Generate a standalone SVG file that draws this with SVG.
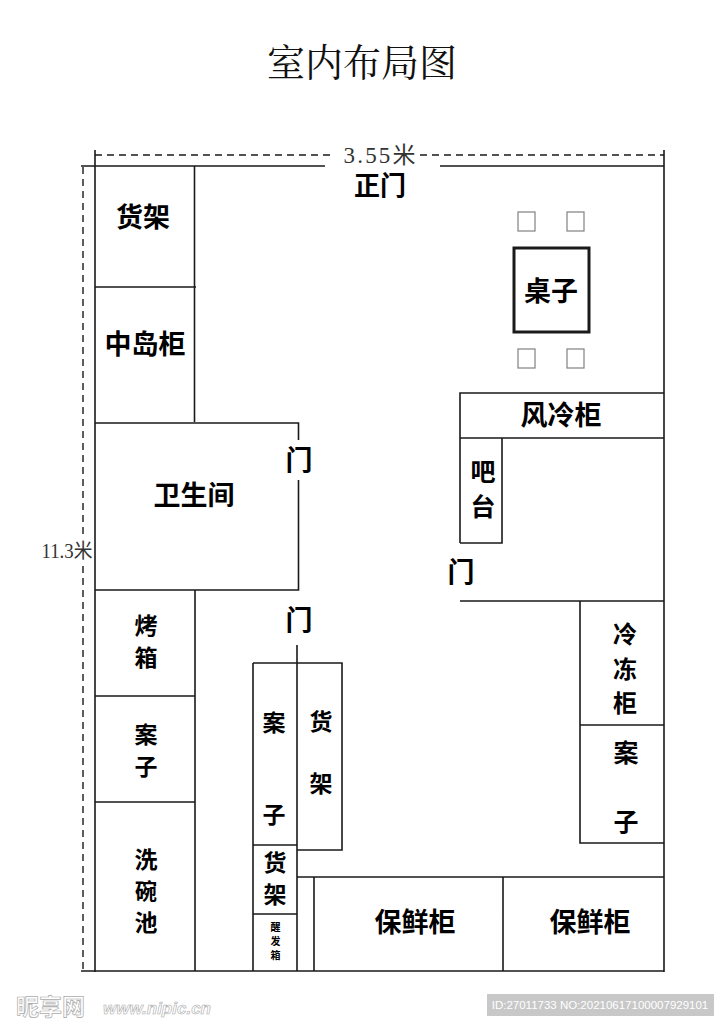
<svg xmlns="http://www.w3.org/2000/svg" width="724" height="1024" viewBox="0 0 724 1024">
<style>
.w{stroke:#1a1a1a;stroke-width:1.6;fill:none}
.d{stroke:#1a1a1a;stroke-width:1.4;fill:none;stroke-dasharray:7 5}
.c{stroke:#808080;stroke-width:1.2;fill:#fff}
.t{font-family:"Noto Sans CJK SC","Noto Sans",sans-serif;font-weight:700;fill:#000;text-anchor:middle}
.s{font-family:"Liberation Serif","Noto Sans CJK SC",serif;fill:#333;text-anchor:middle}
</style>
<rect width="724" height="1024" fill="#fff"/>
<text x="362" y="76" font-size="38" text-anchor="middle" fill="#111" font-family="'Noto Serif CJK SC','Noto Sans CJK SC',sans-serif" font-weight="400">室内布局图</text>
<g id="connectors">
<path class="d" d="M95 155H332M420 155H664"/>
<path class="d" d="M83 167V538M83 566V971"/>
<path class="w" d="M95 150V972M664 150V972M81 166H325M440 166H664M81 971H664"/>
<path class="w" d="M194.500 166V422M95 287H196M95 423H298.500V440M298.500 480V590H95M195 590V971M95 696H195M95 802H195"/>
<path class="w" d="M297 645V971M253 663H342V850H297M253 663V971M253 845H297M253 914H297M297 877H664M314 877V971M503 877V971"/>
<path class="w" d="M460 543V393H664M460 438H664M502 438V543H460M460 601H664M580 601V843H664M580 725H664"/>
</g>
<g id="dim-w"><text class="s" x="379.500" y="163" font-size="23" textLength="72" lengthAdjust="spacing">3.55米</text></g>
<g id="dim-h"><text class="s" x="67" y="558" font-size="20" textLength="51" lengthAdjust="spacingAndGlyphs">11.3米</text></g>
<g id="door-main"><text class="t" x="380" y="195" font-size="26">正门</text></g>
<g id="shelf-1"><text class="t" x="143" y="227" font-size="27">货架</text></g>
<g id="island"><text class="t" x="145" y="354" font-size="27">中岛柜</text></g>
<g id="bathroom"><text class="t" x="194" y="505" font-size="27">卫生间</text></g>
<g id="door-1"><text class="t" x="299" y="470" font-size="27">门</text></g>
<g id="door-2"><text class="t" x="299" y="630" font-size="27">门</text></g>
<g id="door-3"><text class="t" x="461" y="582" font-size="27">门</text></g>
<g id="oven"><text class="t" x="146" y="634" font-size="23">烤</text><text class="t" x="146" y="666" font-size="23">箱</text></g>
<g id="counter-1"><text class="t" x="146" y="743" font-size="23">案</text><text class="t" x="146" y="775" font-size="23">子</text></g>
<g id="sink"><text class="t" x="146" y="868" font-size="23">洗</text><text class="t" x="146" y="899" font-size="22">碗</text><text class="t" x="146" y="931" font-size="23">池</text></g>
<g id="counter-2"><text class="t" x="274" y="731" font-size="23">案</text><text class="t" x="274" y="823" font-size="23">子</text></g>
<g id="shelf-2"><text class="t" x="321" y="730" font-size="23">货</text><text class="t" x="321" y="792" font-size="23">架</text></g>
<g id="shelf-3"><text class="t" x="275" y="871" font-size="23">货</text><text class="t" x="275" y="903" font-size="23">架</text></g>
<g id="proofer"><text class="t" x="275.500" y="931" font-size="10">醒</text><text class="t" x="275.500" y="945" font-size="10">发</text><text class="t" x="275.500" y="959" font-size="10">箱</text></g>
<g id="fresh-1"><text class="t" x="415" y="932" font-size="27">保鲜柜</text></g>
<g id="fresh-2"><text class="t" x="590" y="932" font-size="27">保鲜柜</text></g>
<g id="table"><rect x="514" y="248" width="75" height="84" fill="none" stroke="#1a1a1a" stroke-width="3"/><text class="t" x="551" y="301" font-size="27">桌子</text></g>
<g id="chairs"><rect class="c" x="518" y="212" width="17" height="19"/><rect class="c" x="567" y="212" width="17" height="19"/><rect class="c" x="518" y="349" width="17" height="19"/><rect class="c" x="567" y="349" width="17" height="19"/></g>
<g id="aircooled"><text class="t" x="561" y="425" font-size="27">风冷柜</text></g>
<g id="bar"><text class="t" x="483" y="481" font-size="25">吧</text><text class="t" x="483" y="516" font-size="25">台</text></g>
<g id="freezer"><text class="t" x="625" y="643" font-size="24">冷</text><text class="t" x="625" y="678" font-size="24">冻</text><text class="t" x="625" y="712" font-size="24">柜</text></g>
<g id="counter-3"><text class="t" x="626" y="762" font-size="25">案</text><text class="t" x="626" y="831" font-size="25">子</text></g>
<g id="watermark">
<text x="16" y="1015" font-size="23" font-family="'Noto Sans CJK SC',sans-serif" font-weight="700" fill="#fff" stroke="#aaa" stroke-width=".7">昵享网</text>
<text x="103" y="1014" font-size="17" font-family="'Liberation Sans',sans-serif" font-style="italic" font-weight="700" fill="#fff" stroke="#aaa" stroke-width=".6">www.nipic.cn</text>
<rect x="487" y="994" width="227" height="22" fill="#c8c8c8"/>
<text x="600" y="1009" font-size="11.500" text-anchor="middle" font-family="'Liberation Sans',sans-serif" fill="#fff">ID:27011733 NO:20210617100007929101</text>
</g>
</svg>
